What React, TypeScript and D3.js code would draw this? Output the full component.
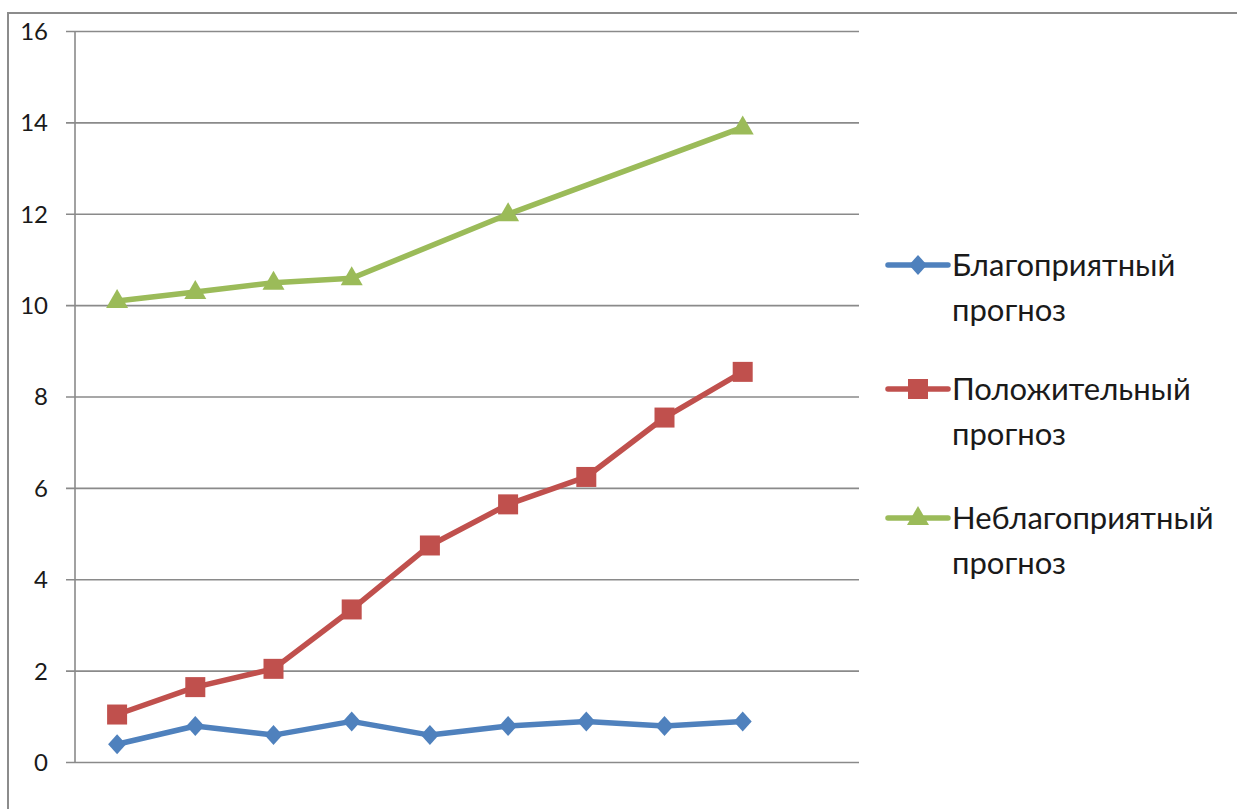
import React from 'react';
import * as d3 from 'd3';

// Forecast series over nine periods (the axis reserves one extra empty slot)
const periods = ['1', '2', '3', '4', '5', '6', '7', '8', '9'];
const favourable = [0.4, 0.8, 0.6, 0.9, 0.6, 0.8, 0.9, 0.8, 0.9];
const positive = [1.05, 1.65, 2.05, 3.35, 4.75, 5.65, 6.25, 7.55, 8.55];
const unfavourable: (number | null)[] = [10.1, 10.3, 10.5, 10.6, null, 12.0, null, null, 13.9];
const yTicks = [0, 2, 4, 6, 8, 10, 12, 14, 16];

const seriesNames = [
  ['Благоприятный', 'прогноз'],
  ['Положительный', 'прогноз'],
  ['Неблагоприятный', 'прогноз'],
];
const colors = ['#4F81BD', '#C0504D', '#9BBB59'];

const W = 1237;
const H = 809;
const FONT = 'Lato, "Open Sans", sans-serif';

type Shape = 'diamond' | 'square' | 'triangle';
const shapes: Shape[] = ['diamond', 'square', 'triangle'];

function Marker({ shape, x, y, color }: { shape: Shape; x: number; y: number; color: string }) {
  if (shape === 'diamond') {
    const r = 10;
    return <path d={`M${x},${y - r}L${x + r - 1},${y}L${x},${y + r}L${x - r + 1},${y}Z`} fill={color} />;
  }
  if (shape === 'square') {
    const s = 20;
    return <rect x={x - s / 2} y={y - s / 2} width={s} height={s} fill={color} />;
  }
  const hw = 11;
  return <path d={`M${x},${y - 12}L${x + hw},${y + 7}L${x - hw},${y + 7}Z`} fill={color} />;
}

export default function App() {
  const plotLeft = 75;
  const plotRight = 859;
  const x = d3.scaleLinear().domain([0, periods.length + 1]).range([78, 860]);
  const y = d3.scaleLinear().domain([0, 16]).range([762.5, 31.5]);
  const cx = (i: number) => x(i + 0.5);

  const allSeries = [favourable, positive, unfavourable];

  const line = d3
    .line<[number, number]>()
    .x((d) => d[0])
    .y((d) => d[1]);

  const legendY = [265, 389, 518];

  return (
    <svg
      width={W}
      height={H}
      style={{ position: 'absolute', left: 0, top: 0, background: '#fff' }}
      fontFamily={FONT}
    >
      {/* chart frame */}
      <rect x={8} y={13} width={1400} height={1000} fill="none" stroke="#8c8c8c" strokeWidth={2} />

      {/* horizontal gridlines and tick marks */}
      {yTicks.map((t) => (
        <g key={t}>
          <line x1={plotLeft - 9} x2={plotRight} y1={y(t)} y2={y(t)} stroke="#8a8a8a" strokeWidth={1.6} />
          <text x={48} y={y(t)} dy="0.35em" textAnchor="end" fontSize={24} fill="#1a1a1a">
            {t}
          </text>
        </g>
      ))}
      {/* value axis */}
      <line x1={plotLeft} x2={plotLeft} y1={y(16)} y2={y(0)} stroke="#8a8a8a" strokeWidth={1.6} />

      {/* series */}
      {allSeries.map((vals, s) => {
        const pts: [number, number][] = [];
        vals.forEach((v, i) => {
          if (v !== null && v !== undefined) pts.push([cx(i), y(v)]);
        });
        return (
          <g key={s}>
            <path
              d={line(pts) || ''}
              fill="none"
              stroke={colors[s]}
              strokeWidth={5.5}
              strokeLinejoin="round"
              strokeLinecap="round"
            />
            {pts.map((p, i) => (
              <Marker key={i} shape={shapes[s]} x={p[0]} y={p[1]} color={colors[s]} />
            ))}
          </g>
        );
      })}

      {/* legend */}
      {seriesNames.map((names, s) => {
        const ly = legendY[s];
        return (
          <g key={s}>
            <line x1={888} x2={948} y1={ly} y2={ly} stroke={colors[s]} strokeWidth={5.5} strokeLinecap="round" />
            <Marker shape={shapes[s]} x={918} y={ly} color={colors[s]} />
            <text x={952} y={ly + 11} fontSize={31} fill="#1a1a1a">
              {names[0]}
            </text>
            <text x={952} y={ly + 56} fontSize={31} fill="#1a1a1a">
              {names[1]}
            </text>
          </g>
        );
      })}
    </svg>
  );
}
